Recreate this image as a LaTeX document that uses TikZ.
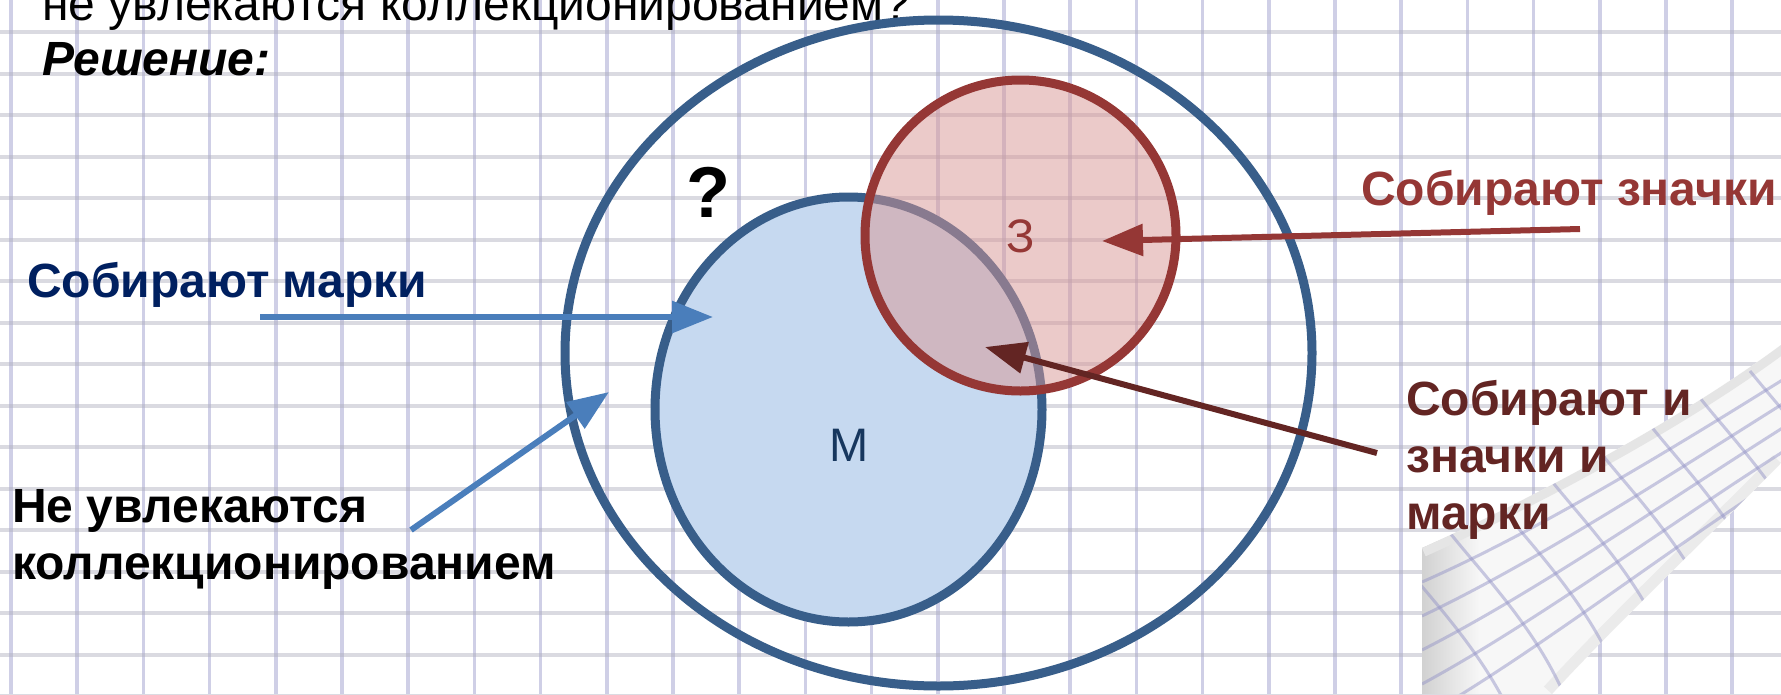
\documentclass[tikz,border=0pt]{standalone}
\usepackage{fontspec}
\setmainfont{Liberation Sans}
\usetikzlibrary{arrows.meta,shapes.geometric}
\definecolor{outerblue}{RGB}{56,94,138}
\definecolor{mfill}{RGB}{198,217,240}
\definecolor{zred}{RGB}{149,55,53}
\definecolor{zfill}{RGB}{217,150,148}
\definecolor{arrblue}{RGB}{74,126,187}
\definecolor{darkred}{RGB}{99,37,35}
\definecolor{navytxt}{RGB}{0,32,96}
\definecolor{mtext}{RGB}{23,55,94}
\definecolor{gridv}{RGB}{150,150,200}
\definecolor{gridh}{RGB}{175,175,190}
\begin{document}
\begin{tikzpicture}[x=1pt,y=-1pt,
  lbl/.style={inner sep=0pt, anchor=base west, font=\fontsize{48}{57}\selectfont\bfseries},
  plain/.style={inner sep=0pt, anchor=base, font=\fontsize{47}{57}\selectfont},
  vline/.style={gridv, line width=3.5pt, opacity=0.45},
  hline/.style={gridh, line width=4pt, opacity=0.45},
  arrowtip/.style={-{Triangle[length=41pt,width=31pt]}, line width=6pt},
  ring/.style={ellipse, inner sep=0pt, line width=9pt}
]
\useasboundingbox (0,0) rectangle (1781,694);
\begin{scope}
\clip (0,0) rectangle (1781,694);
\fill[white] (0,0) rectangle (1781,694);
% grid paper
\foreach \i in {0,...,26} \draw[vline] ({11+66.2*\i},0) -- ({11+66.2*\i},694);
\foreach \j in {0,...,16} \draw[hline] (0,{32+41.5*\j}) -- (1781,{32+41.5*\j});
% page curl
\begin{scope}
\clip (1422,694) -- (1422,548) .. controls (1530,500) and (1680,420) .. (1781,345)
  -- (1781,463) .. controls (1700,545) and (1620,620) .. (1552,694) -- cycle;
\fill[white!97!black] (1400,330) rectangle (1781,694);
\shade[left color=black!18, right color=white!97!black] (1422,330) rectangle (1480,694);
\draw[black!8, line width=22pt] (1781,463) .. controls (1700,545) and (1620,620) .. (1552,694);
\draw[black!10, line width=18pt] (1422,548) .. controls (1530,500) and (1680,420) .. (1781,345);
\foreach \k in {1,...,5} \draw[gridv, line width=3pt, opacity=0.5] (1422,{548+34*\k}) .. controls (1540,{500+30*\k}) and (1680,{420+24*\k}) .. (1800,{345+24*\k});
\foreach \k in {0,...,7} \draw[gridv, line width=3pt, opacity=0.5] ({1400+50*\k},{560-27*\k}) .. controls +(40,50) and +(-20,-90) .. ++(130,210);
\end{scope}
% heading texts
\node[inner sep=0pt, anchor=base west, font=\fontsize{48}{57}\selectfont] (q) at (42,20) {не увлекаются коллекционированием?};
\node[inner sep=0pt, anchor=base west, font=\fontsize{48}{57}\selectfont\bfseries\itshape] (sol) at (42,75) {Решение:};
% sets
\node[ring, draw=outerblue, minimum width=747pt, minimum height=666pt] (U) at (938.5,353) {};
\node[ring, draw=outerblue, fill=mfill, minimum width=387pt, minimum height=425pt] (M) at (848.5,409.5) {};
\node[ring, fill=zfill, fill opacity=0.5, minimum width=311pt, minimum height=311pt] (Zf) at (1020.5,235.5) {};
\node[ring, draw=zred, minimum width=311pt, minimum height=311pt] (Z) at (1020.5,235.5) {};
\node[plain, text=mtext] (Mlbl) at (849.5,461) {М};
\node[plain, text=zred] (Zlbl) at (1021,252) {З};
\node[inner sep=0pt, anchor=base west, font=\fontsize{72}{80}\selectfont\bfseries] (qm) at (686,217) {?};
% labels
\node[lbl, text=navytxt] (lm) at (27,297) {Собирают марки};
\node[lbl, text=black] (ln) at (12,522) {\begin{tabular}[t]{@{}l@{}}Не увлекаются\\коллекционированием\end{tabular}};
\node[lbl, text=zred] (lz) at (1361,205) {Собирают значки};
\node[lbl, text=darkred] (lb) at (1406,415) {\begin{tabular}[t]{@{}l@{}}Собирают и\\значки и\\марки\end{tabular}};
% arrows
\coordinate (a1s) at (260,317); \coordinate (a1e) at (713,317);
\coordinate (a2s) at (411,530); \coordinate (a2e) at (609,392);
\coordinate (a3s) at (1580,229); \coordinate (a3e) at (1102,241);
\coordinate (a4s) at (1377,453); \coordinate (a4e) at (985,347);
\draw[arrowtip, arrblue] (a1s) -- (a1e);
\draw[arrowtip, arrblue] (a2s) -- (a2e);
\draw[arrowtip, zred] (a3s) -- (a3e);
\draw[arrowtip, darkred] (a4s) -- (a4e);
\end{scope}
\end{tikzpicture}
\end{document}
